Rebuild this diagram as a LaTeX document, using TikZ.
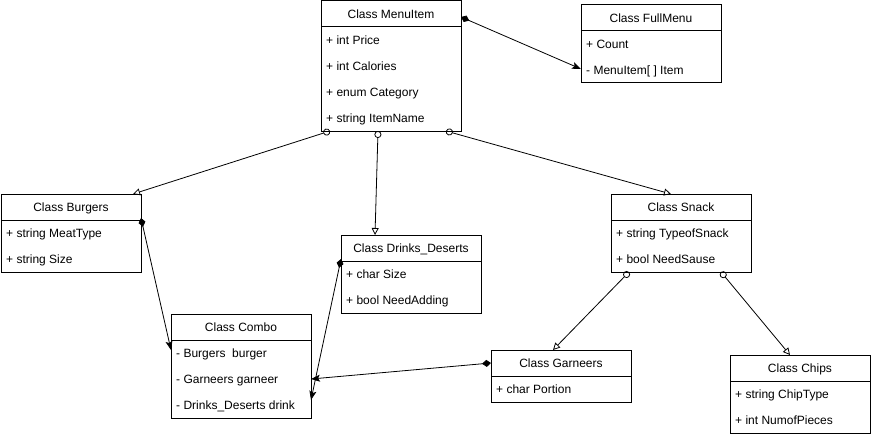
\documentclass[tikz,border=0pt]{standalone}
\usepackage{fontspec}
\setmainfont{Liberation Sans}
\usetikzlibrary{calc,arrows.meta}

\tikzset{
  classbox/.style={draw, line width=1pt, minimum width=140pt, inner sep=0pt, outer sep=0pt, anchor=north west},
  classtitle/.style={inner sep=0pt, text height=8.6pt, text depth=2.4pt, font=\fontsize{12}{14}\selectfont},
  classattr/.style={inner sep=0pt, text height=8.6pt, text depth=2.4pt, anchor=west, font=\fontsize{12}{14}\selectfont},
  link/.style={line width=0.8pt},
  inherit/.style={link, {Circle[open, length=7pt, width=7pt]}-{Triangle[open, length=7pt, width=7pt]}},
  compose/.style={link, {Diamond[length=9pt, width=7pt]}-{Stealth[length=9pt, width=7pt, inset=2pt]}},
}

% #1 name, #2 left, #3 top, #4 number of attribute rows, #5 title, #6 attribute rows
\newcommand{\umlclass}[6]{%
  \node[classbox, minimum height={26*(#4+1)}] (#1) at (#2,#3) {};
  \node[classtitle] (#1-title) at ($(#1.north)+(0,14)$) {#5};
  \draw[line width=1pt] ($(#1.north west)+(0,26)$) -- ($(#1.north east)+(0,26)$);
  \foreach \txt [count=\i] in {#6} {
    \node[classattr] (#1-row\i) at ($(#1.north west)+(5,{26+14+26*(\i-1)})$) {\txt};
  }
}

\begin{document}
\begin{tikzpicture}[x=1pt, y=-1pt]
  \fill[white] (0,0) rectangle (871,436);
  \useasboundingbox (0,0) rectangle (871,436);

  \umlclass{menu}{321}{1}{4}{Class MenuItem}{+ int Price, + int Calories, + enum Category, + string ItemName}
  \umlclass{full}{581}{5}{2}{Class FullMenu}{+ Count, - MenuItem[ ] Item}
  \umlclass{burg}{1}{194}{2}{Class Burgers}{+ string MeatType, + string Size}
  \umlclass{drinks}{341}{235}{2}{Class Drinks\_Deserts}{+ char Size, + bool NeedAdding}
  \umlclass{snack}{611}{194}{2}{Class Snack}{+ string TypeofSnack, + bool NeedSause}
  \umlclass{combo}{171}{314}{3}{Class Combo}{- Burgers\ \ burger, - Garneers garneer, - Drinks\_Deserts drink}
  \umlclass{garn}{491}{350}{1}{Class Garneers}{+ char Portion}
  \umlclass{chips}{730}{355}{2}{Class Chips}{+ string ChipType, + int NumofPieces}

  % menu item composition into the full menu
  \draw[compose] ($(menu.north east)+(0,16)$) -- ($(full.north west)+(0,64)$);

  % specialisations of MenuItem and Snack
  \draw[inherit] ($(menu.south west)+(9,0)$) -- ($(burg.north west)+(132,0)$);
  \draw[inherit] ($(menu.south west)+(57,0)$) -- ($(drinks.north west)+(34,0)$);
  \draw[inherit] ($(menu.south west)+(125,0)$) -- ($(snack.north west)+(60,0)$);
  \draw[inherit] ($(snack.south west)+(18,0)$) -- ($(garn.north west)+(62,0)$);
  \draw[inherit] ($(snack.south west)+(110,0)$) -- ($(chips.north west)+(60,0)$);

  % parts of a combo
  \draw[compose] ($(burg.north east)+(0,24)$) -- ($(combo.north west)+(0,36)$);
  \draw[compose] ($(drinks.north west)+(0,24)$) -- ($(combo.north east)+(0,86)$);
  \draw[compose] ($(garn.north west)+(0,13)$) -- ($(combo.north east)+(0,65)$);
\end{tikzpicture}
\end{document}
